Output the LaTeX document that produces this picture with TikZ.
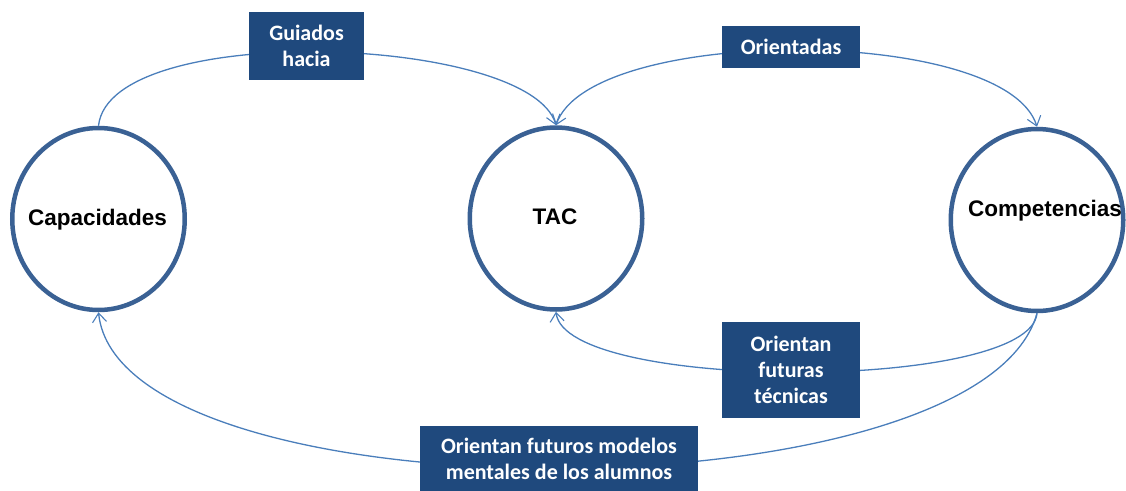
\documentclass[tikz,border=0pt]{standalone}
\usepackage{fontspec}
\setmainfont{Liberation Sans}
\newfontfamily\boxfont{Carlito}
\usetikzlibrary{shapes.geometric,arrows.meta}
\definecolor{ringblue}{HTML}{3A6194}
\definecolor{boxblue}{HTML}{1F497D}
\definecolor{linkblue}{HTML}{4A7EBB}
\begin{document}
\begin{tikzpicture}[x=1pt,y=-1pt,
  ring/.style={ellipse, draw=ringblue, line width=4.5pt, fill=white,
    minimum width=172.5pt, minimum height=182pt, inner sep=0pt},
  ringtext/.style={font=\fontsize{22.5}{25}\selectfont\bfseries, text=black, inner sep=0pt},
  tag/.style={fill=boxblue, text=white, inner sep=0pt, align=center,
    font=\boxfont\fontsize{22}{26}\selectfont\bfseries},
  link/.style={draw=linkblue, line width=1.3pt},
  tip/.style={-{Straight Barb[length=9pt,width=14pt,line width=1.1pt]}},
  bothtips/.style={{Straight Barb[length=9pt,width=14pt,line width=1.1pt]}-{Straight Barb[length=9pt,width=14pt,line width=1.1pt]}}]
\useasboundingbox (0,0) rectangle (1126,490);

% the three concepts
\node[ring] (cap) at (98.5,219) {};
\node[ring] (tac) at (556,218.5) {};
\node[ring] (comp) at (1037,220) {};
\node[ringtext] (captext) at (97.5,220) {Capacidades};
\node[ringtext] (tactext) at (555,217) {TAC};
\node[ringtext] (comptext) at (1045,211) {Competencias};

% connectors
\draw[link, tip] (cap.north) .. controls (110,20) and (530,35) .. (tac.north);
\draw[link, bothtips] (tac.north) .. controls (590,25) and (1005,25) .. (comp.north);
\draw[link, tip] (comp.south) .. controls (1030,392) and (565,392) .. (tac.south);
\draw[link, tip] (comp.south) .. controls (980,520) and (120,520) .. (cap.south);

% labels on the connectors
\node[tag, minimum width=115pt, minimum height=68pt] (guiados) at (306.5,46) {Guiados\\hacia};
\node[tag, minimum width=138pt, minimum height=42pt] (orientadas) at (791,47) {Orientadas};
\node[tag, minimum width=138pt, minimum height=96pt] (tecnicas) at (791,370) {Orientan\\futuras\\técnicas};
\node[tag, minimum width=278pt, minimum height=66pt] (modelos) at (559,459) {Orientan futuros modelos\\mentales de los alumnos};
\end{tikzpicture}
\end{document}
